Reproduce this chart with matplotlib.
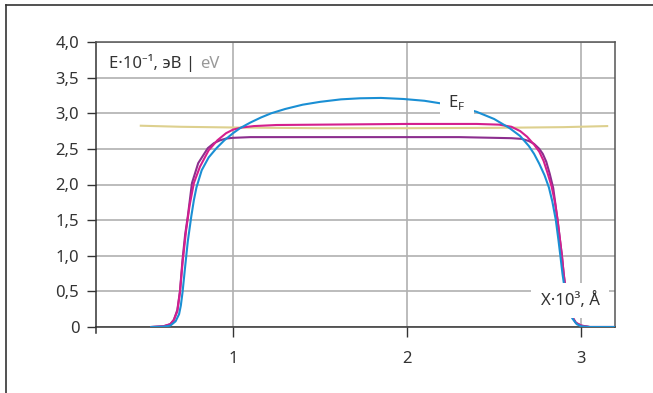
import matplotlib
matplotlib.use("Agg")
import matplotlib.pyplot as plt
from matplotlib.lines import Line2D

plt.rcParams['font.family'] = ['Noto Sans', 'DejaVu Sans']
plt.rcParams['mathtext.fontset'] = 'custom'
plt.rcParams['mathtext.rm'] = 'Noto Sans'

TXT = '#333333'

# data (x in 10^3 A, E in 10^-1 eV)
yellow_x = [0.47, 0.7, 1.0, 1.5, 2.0, 2.5, 2.9, 3.15]
yellow_y = [2.825, 2.81, 2.80, 2.79, 2.79, 2.795, 2.805, 2.82]

blue_x = [0.53, 0.60, 0.64, 0.67, 0.69, 0.70, 0.71, 0.725, 0.74, 0.76, 0.775,
          0.79, 0.82, 0.86, 0.905, 0.95, 1.0, 1.04, 1.1, 1.16, 1.22, 1.3, 1.4,
          1.5, 1.62, 1.73, 1.85, 1.98, 2.1, 2.19, 2.3, 2.4, 2.5, 2.59, 2.65,
          2.7, 2.73, 2.76, 2.79, 2.815, 2.835, 2.855, 2.87, 2.882, 2.893, 2.905,
          2.917, 2.93, 2.95, 2.975, 3.0, 3.05, 3.2]
blue_y = [0.0, 0.005, 0.02, 0.08, 0.18, 0.3, 0.49, 0.85, 1.2, 1.55, 1.78,
          1.96, 2.2, 2.38, 2.51, 2.62, 2.72, 2.79, 2.87, 2.94, 3.0, 3.06, 3.12,
          3.16, 3.195, 3.21, 3.215, 3.2, 3.175, 3.14, 3.09, 3.02, 2.92, 2.79,
          2.68, 2.54, 2.43, 2.29, 2.13, 1.96, 1.76, 1.5, 1.22, 0.98, 0.75,
          0.55, 0.38, 0.25, 0.12, 0.04, 0.01, 0.0, 0.0]

magenta_x = [0.53, 0.60, 0.64, 0.66, 0.68, 0.695, 0.71, 0.73, 0.75, 0.775, 0.81,
             0.86, 0.91, 0.96, 1.0, 1.05, 1.12, 1.25, 1.5, 2.0, 2.4, 2.53, 2.6,
             2.65, 2.69, 2.73, 2.76, 2.785, 2.805, 2.83, 2.85, 2.865, 2.88, 2.89,
             2.9, 2.91, 2.925, 2.945, 2.97, 3.0, 3.05, 3.2]
magenta_y = [0.0, 0.01, 0.04, 0.1, 0.22, 0.49, 0.9, 1.35, 1.7, 2.02, 2.25, 2.48,
             2.62, 2.72, 2.77, 2.8, 2.82, 2.835, 2.84, 2.85, 2.85, 2.84, 2.81,
             2.75, 2.67, 2.56, 2.46, 2.33, 2.18, 1.98, 1.75, 1.5, 1.2, 1.0, 0.75,
             0.55, 0.32, 0.16, 0.06, 0.02, 0.0, 0.0]

purple_x = [0.53, 0.60, 0.64, 0.66, 0.68, 0.695, 0.71, 0.725, 0.74, 0.764, 0.80,
            0.855, 0.89, 0.925, 0.96, 1.0, 1.1, 1.3, 1.6, 2.0, 2.3, 2.5, 2.6,
            2.66, 2.7, 2.73, 2.76, 2.78, 2.8, 2.82, 2.84, 2.865, 2.88, 2.89, 2.9,
            2.91, 2.925, 2.945, 2.97, 3.0, 3.05, 3.2]
purple_y = [0.0, 0.01, 0.04, 0.1, 0.24, 0.5, 0.95, 1.3, 1.55, 2.02, 2.3, 2.51,
            2.58, 2.62, 2.645, 2.655, 2.665, 2.665, 2.665, 2.665, 2.665, 2.655,
            2.65, 2.64, 2.61, 2.57, 2.5, 2.43, 2.32, 2.15, 1.95, 1.5, 1.2, 1.0,
            0.75, 0.55, 0.32, 0.16, 0.06, 0.02, 0.0, 0.0]

x_ticks = [1, 2, 3]
x_labels = ['1', '2', '3']
y_ticks = [0, 0.5, 1.0, 1.5, 2.0, 2.5, 3.0, 3.5, 4.0]
y_labels = ['0', '0,5', '1,0', '1,5', '2,0', '2,5', '3,0', '3,5', '4,0']

fig = plt.figure(figsize=(6.53, 3.93), dpi=100)
ax = fig.add_axes([96 / 653, 1 - 327 / 393, 519 / 653, 285 / 393])

ax.set_xlim(0.2126, 3.195)
ax.set_ylim(0, 4)

lw = 1.5
ax.plot(yellow_x, yellow_y, color='#ddd08e', lw=lw, zorder=3)
ax.plot(purple_x, purple_y, color='#8c2e8e', lw=lw, zorder=4)
ax.plot(magenta_x, magenta_y, color='#d41f8e', lw=lw, zorder=5)
ax.plot(blue_x, blue_y, color='#1a8fd4', lw=lw, zorder=6)

ax.set_xticks(x_ticks)
ax.set_xticklabels(x_labels)
ax.set_yticks(y_ticks)
ax.set_yticklabels(y_labels)
ax.grid(True, color='#b0b0b0', lw=1.2, zorder=1)
ax.set_axisbelow(True)

ax.tick_params(axis='y', direction='out', length=6.5, width=1, color=TXT,
               labelsize=12, labelcolor=TXT, pad=5.5)
ax.tick_params(axis='x', direction='out', length=7, width=1, color=TXT,
               labelsize=12, labelcolor=TXT, pad=10)

for s in ['left', 'bottom']:
    ax.spines[s].set_color(TXT)
    ax.spines[s].set_linewidth(1.1)
for s in ['top', 'right']:
    ax.spines[s].set_color('#555555')
    ax.spines[s].set_linewidth(1.1)

# left axis runs a little below zero
ax.add_line(Line2D([0, 0], [0, -0.022], transform=ax.transAxes, color=TXT,
                   lw=1.1, clip_on=False))

# axis titles inside the plot
t1 = ax.text(0.025, 0.893, 'E·10⁻¹, эВ |', transform=ax.transAxes,
             fontsize=12, color=TXT, ha='left', va='bottom', zorder=8)
ax.annotate('eV', xy=(1, 0), xycoords=t1, xytext=(3.5, 0),
            textcoords='offset points', fontsize=12, color='#999999',
            ha='left', va='bottom', zorder=8)

ax.text(2.937, 0.37, 'X·10³, Å', fontsize=12, color=TXT, ha='center',
        va='center', zorder=8,
        bbox=dict(boxstyle='square,pad=0.55', fc='white', ec='none'))

ax.text(2.287, 3.15, r'E$_\mathregular{F}$', fontsize=12, color=TXT,
        ha='center', va='center', zorder=8,
        bbox=dict(boxstyle='square,pad=0.5', fc='white', ec='none'))

# outer frame (left and top edges)
fig.add_artist(Line2D([5.5 / 653, 5.5 / 653], [0, 1 - 4.5 / 393],
                      transform=fig.transFigure, color=TXT, lw=1.2))
fig.add_artist(Line2D([5.5 / 653, 1], [1 - 4.5 / 393, 1 - 4.5 / 393],
                      transform=fig.transFigure, color=TXT, lw=1.2))

fig.savefig('out.png', dpi=100)
